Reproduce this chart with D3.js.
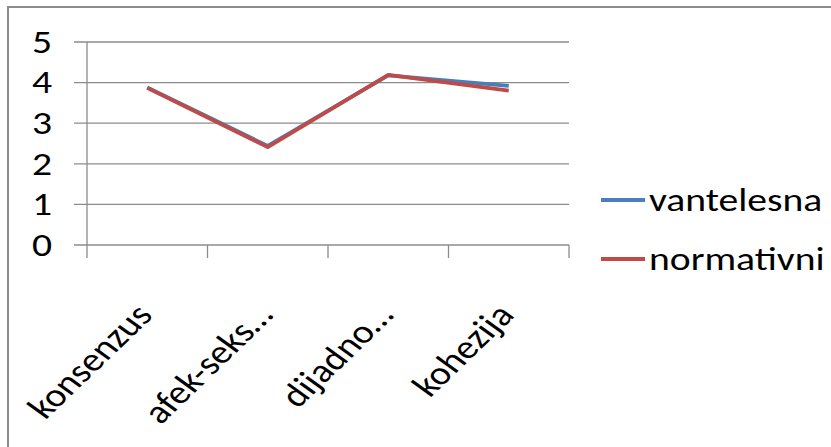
<!DOCTYPE html>
<html>
<head>
<meta charset="utf-8">
<script src="https://cdn.jsdelivr.net/npm/d3@7"></script>
<style>
  body { margin: 0; background: #fff; }
  svg { display: block; }
  text { font-family: Carlito, "Open Sans", sans-serif; fill: #000; }
</style>
</head>
<body>
<svg id="chart"></svg>
<script>
var categories = ['konsenzus', 'afek-seks…', 'dijadno…', 'kohezija'];
var vantelesna = [3.88, 2.44, 4.18, 3.92];
var normativni = [3.87, 2.41, 4.19, 3.80];
var series_names = ['vantelesna', 'normativni'];
var series_colors = ['#4a7ebb', '#be4b48'];
var y_ticks = [0, 1, 2, 3, 4, 5];

var width = 831, height = 447;
var stretch = 1.2; // the picture is a bit wider than tall text would be
var svg = d3.select('#chart').attr('width', width).attr('height', height);

// chart frame, only top and left edges fall inside the picture
svg.append('rect')
  .attr('x', 8).attr('y', 7)
  .attr('width', 900).attr('height', 600)
  .style('fill', 'none')
  .style('stroke', '#8c8c8c')
  .style('stroke-width', 2);

var x = d3.scaleBand().domain(categories).range([87, 569]);
var y = d3.scaleLinear().domain([0, 5]).range([245, 42]);

// horizontal gridlines
svg.selectAll('.grid')
  .data(y_ticks)
  .enter()
  .append('line')
    .attr('class', 'grid')
    .attr('x1', 74).attr('x2', 569)
    .attr('y1', d => y(d)).attr('y2', d => y(d))
    .style('stroke', '#8c8c8c')
    .style('stroke-width', 1.3);

// y axis line
svg.append('line')
  .attr('x1', 87).attr('x2', 87)
  .attr('y1', y(5)).attr('y2', 258)
  .style('stroke', '#8c8c8c')
  .style('stroke-width', 1.3);

// category tick marks
var bounds = categories.map(c => x(c) + x.bandwidth());
svg.selectAll('.xtick')
  .data(bounds)
  .enter()
  .append('line')
    .attr('class', 'xtick')
    .attr('x1', d => d).attr('x2', d => d)
    .attr('y1', y(0)).attr('y2', 258)
    .style('stroke', '#8c8c8c')
    .style('stroke-width', 1.3);

svg.selectAll('.ylab')
  .data(y_ticks)
  .enter()
  .append('text')
    .attr('class', 'ylab')
    .attr('text-anchor', 'end')
    .attr('transform', d => 'translate(52,' + y(d) + ') scale(' + stretch + ',1)')
    .attr('dy', '0.33em')
    .style('font-size', '33px')
    .text(d => d);

svg.selectAll('.xlab')
  .data(categories)
  .enter()
  .append('text')
    .attr('class', 'xlab')
    .attr('text-anchor', 'end')
    .attr('transform', d => 'translate(' + (x(d) + x.bandwidth() / 2 - 14) + ',301) scale(' + stretch + ',1) rotate(-49)')
    .attr('dy', '0.7em')
    .style('font-size', '33px')
    .text(d => d);

var line = d3.line()
  .x((d, i) => x(categories[i]) + x.bandwidth() / 2)
  .y(d => y(d));

[vantelesna, normativni].forEach(function(s, i) {
  svg.append('path')
    .datum(s)
    .attr('d', line)
    .style('fill', 'none')
    .style('stroke', series_colors[i])
    .style('stroke-width', 3.8)
    .style('stroke-linejoin', 'round');
});

var legend_y = [200, 259];
series_names.forEach(function(name, i) {
  svg.append('line')
    .attr('x1', 601).attr('x2', 645)
    .attr('y1', legend_y[i]).attr('y2', legend_y[i])
    .style('stroke', series_colors[i])
    .style('stroke-width', 3.8);
  svg.append('text')
    .attr('transform', 'translate(649,' + legend_y[i] + ') scale(' + stretch + ',1)')
    .attr('dy', '0.33em')
    .style('font-size', '33px')
    .text(name);
});
</script>
</body>
</html>
